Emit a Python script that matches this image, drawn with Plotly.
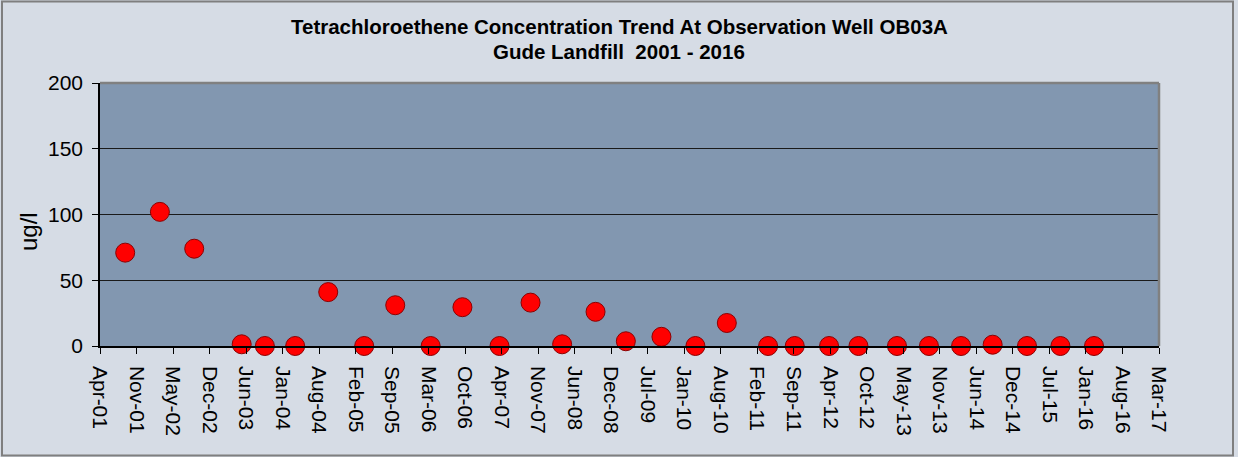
import plotly.graph_objects as go
import pandas as pd

# ---- data ----
sample_dates = [
    "2001-09-04", "2002-03-13", "2002-09-17", "2003-06-04", "2003-10-09",
    "2004-03-23", "2004-09-20", "2005-04-05", "2005-09-22", "2006-04-04",
    "2006-09-25", "2007-04-16", "2007-10-03", "2008-03-24", "2008-09-23",
    "2009-03-08", "2009-09-19", "2010-03-24", "2010-09-12", "2011-04-26",
    "2011-09-19", "2012-03-25", "2012-09-02", "2013-04-01", "2013-09-23",
    "2014-03-18", "2014-09-07", "2015-03-14", "2015-09-13", "2016-03-15",
]
pce_ugl = [
    71, 102, 74, 1.3, 0,
    0, 41, 0, 31, 0,
    29.5, 0, 33, 1.3, 26,
    3.6, 7, 0, 17.5, 0,
    0, 0, 0, 0, 0,
    0, 1, 0, 0, 0,
]
axis_start = "2001-04-19"
axis_end = "2017-03-06"
tick_dates = pd.date_range(axis_start, axis_end, freq="200D")
y_ticks = [0, 50, 100, 150, 200]

title_line1 = "Tetrachloroethene Concentration Trend At Observation Well OB03A"
title_line2 = "Gude Landfill  2001 - 2016"
y_label = "ug/l"

# ---- layout geometry ----
W, H = 1238, 457
L, R, T, B = 100, 79, 83, 111
pw, ph = W - L - R, H - T - B

def px_x(p):
    return (p - L) / pw

def px_y(p):
    return (H - B - p) / ph

FONT = "Liberation Sans, Arial, sans-serif"

fig = go.Figure()
fig.add_trace(go.Scatter(
    x=pd.to_datetime(sample_dates), y=pce_ugl, mode="markers",
    marker=dict(size=19, color="#ff0000", line=dict(color="#8b0000", width=1)),
    cliponaxis=False, showlegend=False,
))

fig.update_layout(
    width=W, height=H,
    margin=dict(l=L, r=R, t=T, b=B, pad=0),
    paper_bgcolor="#d6dce5",
    plot_bgcolor="#8297b0",
    font=dict(family=FONT, color="#000000"),
    xaxis=dict(
        type="date",
        range=[axis_start, axis_end],
        tickvals=tick_dates,
        tickformat="%b-%y",
        tickangle=90,
        tickfont=dict(size=21),
        ticks="outside", ticklen=6, tickcolor="#000000",
        ticklabelstandoff=8,
        showgrid=False, zeroline=False,
        showline=True, linecolor="#000000", linewidth=1.5,
    ),
    yaxis=dict(
        range=[0, 200],
        tickvals=y_ticks,
        tickfont=dict(size=21),
        ticks="outside", ticklen=6, tickcolor="#000000",
        ticklabelstandoff=5,
        showgrid=True, gridcolor="#1a1a1a", gridwidth=1,
        zeroline=False,
        showline=True, linecolor="#000000", linewidth=1.5,
    ),
    shapes=[
        # outer chart border
        dict(type="rect", xref="paper", yref="paper",
             x0=px_x(2), x1=px_x(1233), y0=px_y(455.5), y1=px_y(1.5),
             line=dict(color="#7f7f7f", width=2), layer="below"),
        # top & right plot border (gray)
        dict(type="line", xref="paper", yref="paper", x0=0, x1=1, y0=1, y1=1,
             line=dict(color="#808080", width=2.5)),
        dict(type="line", xref="paper", yref="paper", x0=1, x1=1, y0=0, y1=1,
             line=dict(color="#808080", width=2.5)),
    ],
    annotations=[
        dict(text="<b>" + title_line1 + "</b>", xref="paper", yref="paper",
             x=px_x(619), y=px_y(27), showarrow=False,
             font=dict(size=20.5), xanchor="center", yanchor="middle"),
        dict(text="<b>" + title_line2 + "</b>", xref="paper", yref="paper",
             x=px_x(619), y=px_y(51), showarrow=False,
             font=dict(size=20.5), xanchor="center", yanchor="middle"),
        dict(text=y_label, xref="paper", yref="paper",
             x=px_x(28), y=px_y(232), showarrow=False, textangle=-90,
             font=dict(size=24), xanchor="center", yanchor="middle"),
    ],
)

fig.write_html("out.html")
